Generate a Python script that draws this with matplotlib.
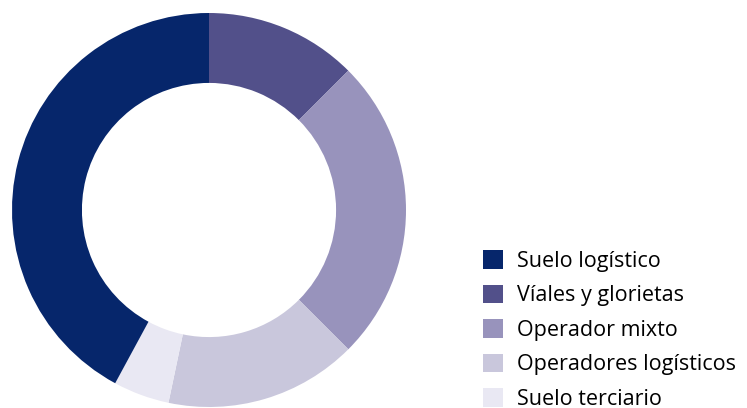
import matplotlib.pyplot as plt
from matplotlib.patches import Patch

# Data, clockwise from 12 o'clock
labels = ['Víales y glorietas', 'Operador mixto', 'Operadores logísticos',
          'Suelo terciario', 'Suelo logístico']
values = [12.5, 25.0, 15.8, 4.6, 42.1]
colors = ['#52508a', '#9893bc', '#c9c7dc', '#e9e8f3', '#06266b']

legend_order = ['Suelo logístico', 'Víales y glorietas', 'Operador mixto',
                'Operadores logísticos', 'Suelo terciario']

W, H = 747, 408
fig = plt.figure(figsize=(W / 100, H / 100), dpi=100)

# donut centred at (209, 210) px, outer radius 197 px
cx, cy, r = 209, 210, 197
ax = fig.add_axes([(cx - r) / W, (H - cy - r) / H, 2 * r / W, 2 * r / H])
ax.pie(values, colors=colors, startangle=90, counterclock=False,
       radius=1, wedgeprops=dict(width=0.355, edgecolor='none'))
ax.set_xlim(-1, 1)
ax.set_ylim(-1, 1)
ax.axis('off')

handles = [Patch(facecolor=colors[labels.index(l)], edgecolor='none', label=l)
           for l in legend_order]
fig.legend(handles=handles, loc='upper left',
           bbox_to_anchor=(483 / W, 1 - 250 / H),
           frameon=False, prop=dict(family='Open Sans', size=15.5),
           handlelength=0.95, handleheight=0.95, handletextpad=0.62,
           labelspacing=0.6, borderaxespad=0, borderpad=0)

fig.savefig('out.png', dpi=100)
